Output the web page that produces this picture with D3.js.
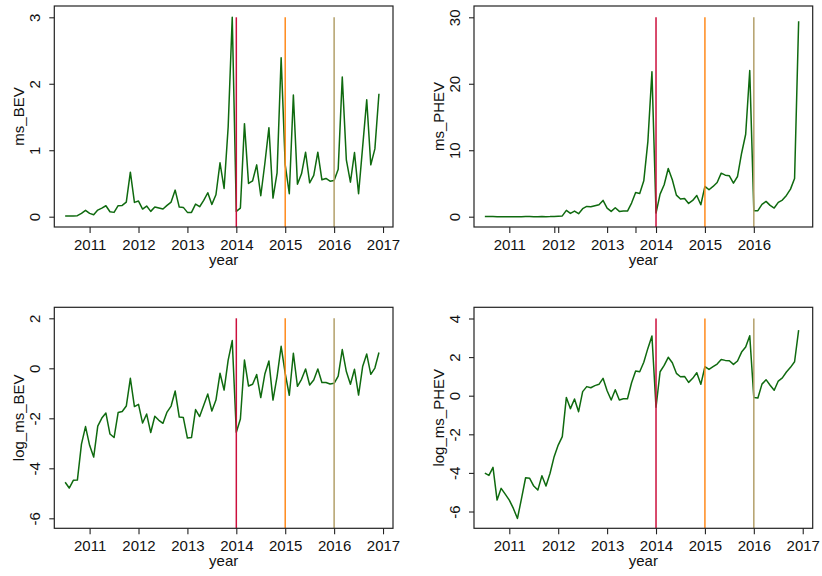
<!DOCTYPE html>
<html>
<head>
<meta charset="utf-8">
<title>Market shares BEV / PHEV</title>
<style>
  body { margin: 0; background: #fff; }
  svg text { font-family: "Liberation Sans", Arial, Helvetica, sans-serif; font-size: 15px; fill: #111; }
  .frame { fill: none; stroke: #222; stroke-width: 1.2; }
  .tick line { stroke: #222; stroke-width: 1.1; }
  .series { fill: none; stroke: #0f6a0f; stroke-width: 1.5; stroke-linejoin: round; }
</style>
</head>
<body>
<script src="https://d3js.org/d3.v7.min.js"></script>
<script>
// monthly observations, July 2010 .. December 2016
const firstMonth = 2010.5;

const msBEV = [0.01, 0.01, 0.01, 0.015, 0.05, 0.095,
  0.05, 0.03, 0.10, 0.13, 0.165, 0.075, 0.065, 0.165, 0.17, 0.22, 0.67, 0.215,
  0.235, 0.115, 0.16, 0.08, 0.145, 0.13, 0.115, 0.17, 0.22, 0.40, 0.145, 0.14,
  0.065, 0.065, 0.19, 0.15, 0.245, 0.36, 0.185, 0.33, 0.81, 0.425, 1.35, 3.0,
  0.08, 0.13, 1.40, 0.50, 0.54, 0.78, 0.315, 0.80, 1.34, 0.28, 0.66, 2.39,
  0.78, 0.345, 1.83, 0.49, 0.645, 0.97, 0.51, 0.62, 0.97, 0.555, 0.575, 0.535,
  0.545, 0.715, 2.10, 0.855, 0.52, 0.965, 0.345, 1.05, 1.76, 0.78, 1.02, 1.85];

const msPHEV = [0.018, 0.016, 0.024, 0.0045, 0.008, 0.006,
  0.0045, 0.003, 0.0017, 0.005, 0.014, 0.014, 0.009, 0.0075, 0.016, 0.009, 0.018, 0.042,
  0.077, 0.12, 0.95, 0.5, 0.85, 0.45, 1.2, 1.55, 1.5, 1.65, 1.8, 2.45,
  1.3, 0.8, 1.35, 0.8, 0.85, 0.85, 2.05, 3.65, 3.5, 5.4, 11.3, 21.8,
  0.55, 3.4, 4.8, 7.25, 5.55, 3.25, 2.65, 2.75, 2.0, 2.45, 3.2, 1.8,
  4.55, 4.05, 4.55, 5.15, 6.55, 6.25, 6.15, 5.05, 6.05, 9.55, 12.4, 22.0,
  0.9, 0.9, 1.85, 2.3, 1.7, 1.3, 2.15, 2.5, 3.2, 4.15, 5.75, 29.4];

const logBEV = [-4.56, -4.79, -4.48, -4.47, -3.03, -2.33,
  -3.08, -3.55, -2.31, -1.99, -1.79, -2.63, -2.77, -1.77, -1.73, -1.51, -0.40, -1.53,
  -1.44, -2.19, -1.83, -2.57, -1.92, -2.08, -2.2, -1.75, -1.51, -0.91, -1.95, -1.97,
  -2.79, -2.77, -1.65, -1.93, -1.48, -1.03, -1.71, -1.27, -0.2, -0.87, 0.33, 1.11,
  -2.56, -2.03, 0.33, -0.71, -0.64, -0.25, -1.17, -0.23, 0.29, -1.27, -0.33, 0.88,
  -0.2, -1.08, 0.6, -0.72, -0.44, -0.03, -0.67, -0.47, -0.03, -0.57, -0.57, -0.63,
  -0.6, -0.31, 0.75, -0.13, -0.64, -0.04, -1.07, 0.07, 0.57, -0.24, 0.01, 0.63];

const logPHEV = [-4.01, -4.13, -3.71, -5.41, -4.80, -5.1,
  -5.41, -5.84, -6.36, -5.32, -4.25, -4.28, -4.68, -4.89, -4.15, -4.68, -4.02, -3.16,
  -2.56, -2.12, -0.09, -0.67, -0.17, -0.83, 0.21, 0.47, 0.41, 0.52, 0.59, 0.90,
  0.26, -0.22, 0.31, -0.22, -0.16, -0.16, 0.67, 1.28, 1.24, 1.73, 2.45, 3.09,
  -0.6, 1.24, 1.57, 1.99, 1.71, 1.16, 0.98, 1.0, 0.69, 0.90, 1.19, 0.59,
  1.50, 1.36, 1.50, 1.64, 1.87, 1.83, 1.81, 1.62, 1.80, 2.26, 2.52, 3.11,
  -0.09, -0.12, 0.6, 0.83, 0.54, 0.28, 0.76, 0.92, 1.23, 1.47, 1.76, 3.40];

// axis ticks
const yearTicks = [2011, 2012, 2013, 2014, 2015, 2016, 2017];
const yearTicksPHEV = [2011, 2011.92, 2012, 2013, 2013.58, 2014, 2015, 2016];
const ticksBEV = [0, 1, 2, 3];
const ticksPHEV = [0, 10, 20, 30];
const ticksLogBEV = [-6, -4, -2, 0, 2];
const ticksLogPHEV = [-6, -4, -2, 0, 2, 4];

// reference lines at the start of each year
const refYears = [2014, 2015, 2016];
const refColors = ["#cc0f3c", "#ff8a1c", "#b3a06a"];

const W = 822, H = 576;
const svg = d3.select("body").append("svg").attr("width", W).attr("height", H);
svg.append("rect").attr("width", W).attr("height", H).attr("fill", "#fff");

const panels = [
  { values: msBEV, name: "ms_BEV", yTicks: ticksBEV, xTicks: yearTicks, yDom: [-0.155, 3.17], left: 54.3, top: 6 },
  { values: msPHEV, name: "ms_PHEV", yTicks: ticksPHEV, xTicks: yearTicksPHEV, yDom: [-1.55, 31.7], left: 474, top: 6 },
  { values: logBEV, name: "log_ms_BEV", yTicks: ticksLogBEV, xTicks: yearTicks, yDom: [-6.4, 2.44], left: 54.3, top: 307.3 },
  { values: logPHEV, name: "log_ms_PHEV", yTicks: ticksLogPHEV, xTicks: yearTicks, yDom: [-6.87, 4.58], left: 474, top: 307.3 }
];
const pw = 338.7, ph = 221;

panels.forEach(p => {
  const g = svg.append("g").attr("transform", `translate(${p.left},${p.top})`);
  const x = d3.scaleLinear().domain([2010.278, 2017.204]).range([0, pw]);
  const y = d3.scaleLinear().domain(p.yDom).range([ph, 0]);
  const data = p.values.map((v, i) => ({ t: firstMonth + i / 12, v: v }));

  // x axis
  const gx = g.append("g").attr("transform", `translate(0,${ph})`)
    .call(d3.axisBottom(x).tickValues(p.xTicks).tickSize(6).tickSizeOuter(0)
      .tickFormat(d => Number.isInteger(d) ? String(d) : ""));
  gx.select(".domain").remove();
  gx.selectAll("text").attr("y", 23).attr("dy", 0).attr("fill", "#111")
    .style("font-size", "15px").style("font-family", null);

  // y axis, labels turned sideways (plain hyphen minus, no decimals)
  const gy = g.append("g")
    .call(d3.axisLeft(y).tickValues(p.yTicks).tickSize(5).tickSizeOuter(0)
      .tickFormat(d => String(d)));
  gy.select(".domain").remove();
  gy.selectAll("text")
    .attr("x", 0).attr("dy", 0).attr("y", 0)
    .attr("text-anchor", "middle").attr("fill", "#111")
    .style("font-size", "15px").style("font-family", null)
    .attr("transform", "translate(-14,0) rotate(-90)");

  // series
  g.append("path").datum(data).attr("class", "series")
    .attr("d", d3.line().x(d => x(d.t)).y(d => y(d.v)));

  // year reference lines
  refYears.forEach((yr, i) => {
    g.append("line")
      .attr("x1", x(yr)).attr("x2", x(yr))
      .attr("y1", y(d3.max(p.yTicks))).attr("y2", ph)
      .attr("stroke", refColors[i]).attr("stroke-width", 1.5);
  });

  g.append("rect").attr("class", "frame").attr("width", pw).attr("height", ph);

  // titles
  g.append("text").attr("x", pw / 2).attr("y", ph + 38)
    .attr("text-anchor", "middle").text("year");
  g.append("text").attr("text-anchor", "middle")
    .attr("transform", `translate(-30,${ph / 2}) rotate(-90)`)
    .text(p.name);
});
</script>
</body>
</html>
